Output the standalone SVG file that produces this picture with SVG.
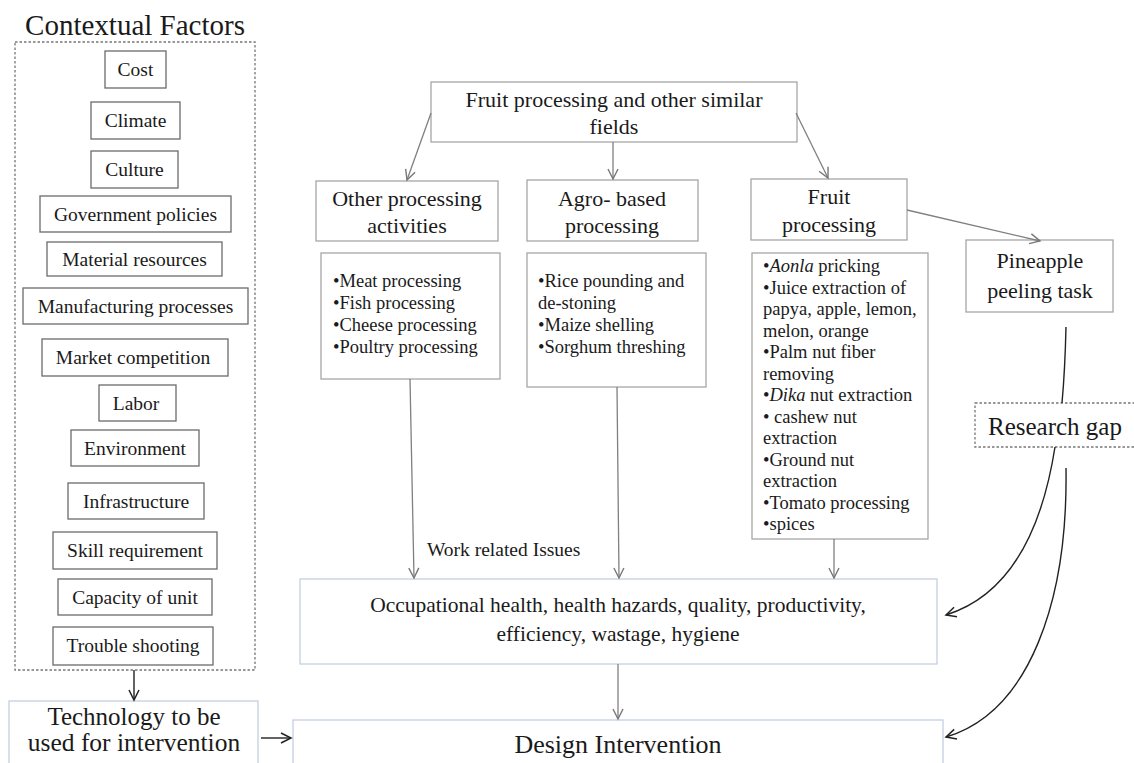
<svg xmlns="http://www.w3.org/2000/svg" width="1134" height="763" viewBox="0 0 1134 763">
  <defs>
    <marker id="arrGray" markerUnits="userSpaceOnUse" markerWidth="14" markerHeight="14" refX="11" refY="6" orient="auto">
      <path d="M1,1 L11,6 L1,11" fill="none" stroke="#777" stroke-width="1.4"/>
    </marker>
    <marker id="arrDark" markerUnits="userSpaceOnUse" markerWidth="14" markerHeight="14" refX="11" refY="6" orient="auto">
      <path d="M1,1 L11,6 L1,11" fill="none" stroke="#222" stroke-width="1.5"/>
    </marker>
  </defs>
  <style>
    text { font-family: "Liberation Serif", "Times New Roman", serif; fill: #1a1a1a; }
    .factor rect { fill: #fff; stroke: #6b6b6b; stroke-width: 1.3; }
    .factor text { font-size: 19.5px; text-anchor: middle; }
    .gbox { fill: #fff; stroke: #a6a6a6; stroke-width: 1.3; }
    .bbox { fill: #fff; stroke: #c3d0e0; stroke-width: 1.3; }
    .dash { fill: none; stroke: #777; stroke-width: 1.3; stroke-dasharray: 2.5 2; }
    .head { font-size: 22px; text-anchor: middle; }
    .list { font-size: 18.5px; }
    .gline { fill: none; stroke: #808080; stroke-width: 1.3; }
    .dline { fill: none; stroke: #222; stroke-width: 1.4; }
  </style>

  <rect width="1134" height="763" fill="#fff"/>

  <!-- Contextual factors panel -->
  <g id="contextual-factors">
    <text x="135" y="35" font-size="29" text-anchor="middle">Contextual Factors</text>
    <rect class="dash" x="15" y="42" width="240" height="628"/>
    <g class="factor" id="f-cost"><rect x="105" y="51" width="61" height="37"/><text x="135.5" y="76">Cost</text></g>
    <g class="factor" id="f-climate"><rect x="91" y="102" width="89" height="37"/><text x="135.5" y="127">Climate</text></g>
    <g class="factor" id="f-culture"><rect x="91" y="151" width="87" height="37"/><text x="134.5" y="176">Culture</text></g>
    <g class="factor" id="f-gov"><rect x="40" y="196" width="191" height="36"/><text x="135.5" y="220.5">Government policies</text></g>
    <g class="factor" id="f-material"><rect x="47" y="242" width="175" height="34"/><text x="134.5" y="265.5">Material  resources</text></g>
    <g class="factor" id="f-manufacturing"><rect x="23" y="288" width="225" height="36"/><text x="135.5" y="312.5">Manufacturing processes</text></g>
    <g class="factor" id="f-market"><rect x="42" y="339" width="186" height="37"/><text x="133" y="364">Market  competition</text></g>
    <g class="factor" id="f-labor"><rect x="99" y="385" width="77" height="36"/><text x="136" y="409.5">Labor</text></g>
    <g class="factor" id="f-environment"><rect x="71" y="430" width="128" height="36"/><text x="135" y="454.5">Environment</text></g>
    <g class="factor" id="f-infrastructure"><rect x="68" y="483" width="136" height="36"/><text x="136" y="507.5">Infrastructure</text></g>
    <g class="factor" id="f-skill"><rect x="53" y="532" width="164" height="37"/><text x="135" y="557">Skill  requirement</text></g>
    <g class="factor" id="f-capacity"><rect x="58" y="579" width="154" height="36"/><text x="135" y="603.5">Capacity of unit</text></g>
    <g class="factor" id="f-trouble"><rect x="53" y="627" width="160" height="38"/><text x="133" y="652">Trouble shooting</text></g>
  </g>

  <g id="technology">
    <rect class="bbox" x="9" y="701" width="249" height="80"/>
    <text x="134" y="725" font-size="25" text-anchor="middle">Technology  to be</text>
    <text x="134" y="751" font-size="25.5" text-anchor="middle">used  for intervention</text>
  </g>

  <!-- Processing hierarchy -->
  <g id="fields">
    <rect class="gbox" x="431" y="82" width="366" height="60"/>
    <text class="head" x="614" y="107">Fruit processing  and  other  similar</text>
    <text class="head" x="614" y="134">fields</text>
  </g>

  <g id="other-processing">
    <rect class="gbox" x="316" y="181" width="182" height="60"/>
    <text class="head" x="407" y="206">Other processing</text>
    <text class="head" x="407" y="233">activities</text>
  </g>

  <g id="agro-processing">
    <rect class="gbox" x="527" y="180" width="171" height="61"/>
    <text class="head" x="612" y="206">Agro-  based</text>
    <text class="head" x="612" y="233">processing</text>
  </g>

  <g id="fruit-processing">
    <rect class="gbox" x="751" y="179" width="156" height="61"/>
    <text class="head" x="829" y="204">Fruit</text>
    <text class="head" x="829" y="232">processing</text>
  </g>

  <g id="pineapple">
    <rect class="gbox" x="966" y="240" width="147" height="72"/>
    <text class="head" x="1040" y="268">Pineapple</text>
    <text class="head" x="1040" y="298">peeling  task</text>
  </g>

  <g id="other-list">
    <rect class="gbox" x="321" y="253" width="179" height="126"/>
    <text class="list" x="333" y="287">•Meat  processing</text>
    <text class="list" x="333" y="309">•Fish processing</text>
    <text class="list" x="333" y="331">•Cheese processing</text>
    <text class="list" x="333" y="353">•Poultry processing</text>
  </g>

  <g id="agro-list">
    <rect class="gbox" x="527" y="253" width="179" height="134"/>
    <text class="list" x="538" y="287">•Rice  pounding and</text>
    <text class="list" x="538" y="309">de-stoning</text>
    <text class="list" x="538" y="331">•Maize  shelling</text>
    <text class="list" x="538" y="353">•Sorghum threshing</text>
  </g>

  <g id="fruit-list">
    <rect class="gbox" x="752" y="253" width="176" height="286"/>
    <text class="list" x="763" y="272">•<tspan font-style="italic">Aonla</tspan> pricking</text>
    <text class="list" x="763" y="293.5">•Juice extraction of</text>
    <text class="list" x="763" y="315">papya, apple, lemon,</text>
    <text class="list" x="763" y="336.5">melon, orange</text>
    <text class="list" x="763" y="358">•Palm nut fiber</text>
    <text class="list" x="763" y="379.5">removing</text>
    <text class="list" x="763" y="401">•<tspan font-style="italic">Dika</tspan> nut extraction</text>
    <text class="list" x="763" y="422.5">•  cashew nut</text>
    <text class="list" x="763" y="444">extraction</text>
    <text class="list" x="763" y="465.5">•Ground nut</text>
    <text class="list" x="763" y="487">extraction</text>
    <text class="list" x="763" y="508.5">•Tomato processing</text>
    <text class="list" x="763" y="530">•spices</text>
  </g>

  <g id="research-gap">
    <rect class="dash" x="975" y="403" width="170" height="44"/>
    <text x="988" y="435" font-size="25">Research  gap</text>
  </g>

  <g id="work-issues-label">
    <text x="427" y="556" font-size="19.5">Work related Issues</text>
  </g>

  <g id="work-issues">
    <rect class="bbox" x="300" y="579" width="637" height="85"/>
    <text x="618" y="612" font-size="21.5" text-anchor="middle">Occupational  health, health hazards, quality, productivity,</text>
    <text x="618" y="641" font-size="21.5" text-anchor="middle">efficiency, wastage,  hygiene</text>
  </g>

  <g id="design-intervention">
    <rect class="bbox" x="293" y="720" width="650" height="70"/>
    <text x="618" y="753" font-size="26" text-anchor="middle">Design Intervention</text>
  </g>

  <!-- Connectors -->
  <g id="connectors">
    <path class="gline" d="M431,113 L407,180" marker-end="url(#arrGray)"/>
    <path class="gline" d="M613,142 L613,179" marker-end="url(#arrGray)"/>
    <path class="gline" d="M796,113 L828,178" marker-end="url(#arrGray)"/>
    <path class="gline" d="M907,210 L1040,241" marker-end="url(#arrGray)"/>
    <path class="gline" d="M410,379 L414,578" marker-end="url(#arrGray)"/>
    <path class="gline" d="M617,387 L619,578" marker-end="url(#arrGray)"/>
    <path class="gline" d="M834,539 L834,578" marker-end="url(#arrGray)"/>
    <path class="gline" d="M618,664 L618,719" marker-end="url(#arrGray)"/>
    <path class="dline" d="M1066,327 Q1065,370 1062,403"/>
    <path class="dline" d="M1055,447 C1042,530 1010,595 946,615" marker-end="url(#arrDark)"/>
    <path class="dline" d="M1066,468 C1068,600 1030,712 946,737" marker-end="url(#arrDark)"/>
    <path class="dline" d="M134,670 L134,700" marker-end="url(#arrDark)"/>
    <path class="dline" d="M261,738 L291,738" marker-end="url(#arrDark)"/>
  </g>
</svg>
